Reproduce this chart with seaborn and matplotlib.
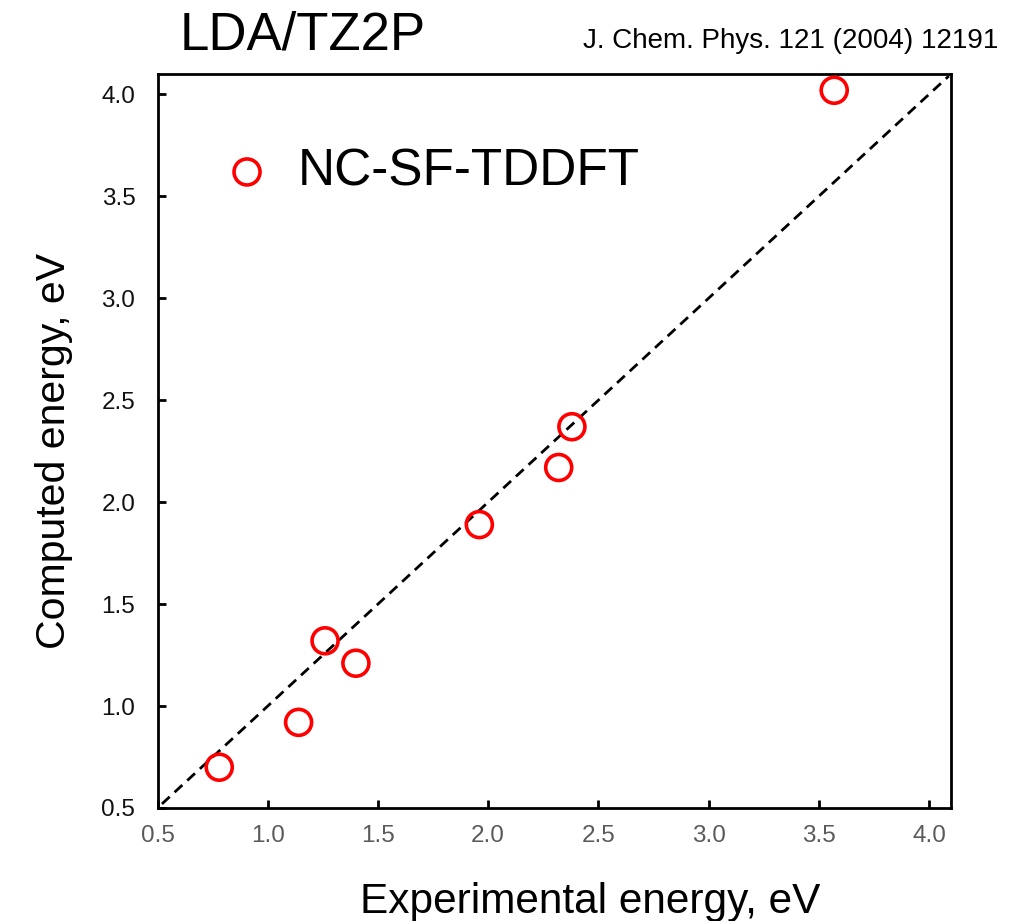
import matplotlib
matplotlib.use("Agg")
import matplotlib.pyplot as plt
from matplotlib import font_manager
import seaborn as sns
import pandas as pd

# Excitation energies (eV): experiment vs. NC-SF-TDDFT
experimental = [0.78, 1.14, 1.26, 1.40, 1.96, 2.32, 2.38, 3.57]
computed = [0.70, 0.92, 1.32, 1.21, 1.89, 2.17, 2.37, 4.02]
series_label = "NC-SF-TDDFT"
tick_values = [0.5, 1.0, 1.5, 2.0, 2.5, 3.0, 3.5, 4.0]
axis_limits = (0.5, 4.1)
diagonal = [0.52, 4.09]

sns.set_style("white")
installed = {f.name for f in font_manager.fontManager.ttflist}
regular = "Liberation Sans"
narrow = "Liberation Sans Narrow" if "Liberation Sans Narrow" in installed else regular
plt.rcParams["font.family"] = [regular, "DejaVu Sans"]
plt.rcParams["text.color"] = "black"

df = pd.DataFrame({"Experimental": experimental, "Computed": computed})

fig = plt.figure(figsize=(10.19, 9.21), dpi=100)
ax = fig.add_axes([0.1546, 0.1227, 0.7787, 0.7970])

ax.plot(diagonal, diagonal, color="black", lw=2.0, ls=(0, (3.8, 2.4)), zorder=1)

sns.scatterplot(data=df, x="Experimental", y="Computed", ax=ax, marker="o",
                s=350, facecolors="none", edgecolors="#ff0000", linewidth=2.6,
                label=series_label, zorder=3)

ax.set_xlim(*axis_limits)
ax.set_ylim(*axis_limits)
ax.set_xticks(tick_values)
ax.set_yticks(tick_values)
ax.set_xticklabels([f"{v:.1f}" for v in tick_values])
ax.set_yticklabels([f"{v:.1f}" for v in tick_values])

for side in ["left", "right", "top", "bottom"]:
    ax.spines[side].set_visible(True)
    ax.spines[side].set_linewidth(2.0)
    ax.spines[side].set_color("black")

ax.tick_params(axis="both", direction="in", length=5.5, width=2.0, color="black",
               bottom=True, left=True, top=False, right=False, labelsize=17.5)
ax.tick_params(axis="x", pad=12, labelcolor="#5a5a5a")
ax.tick_params(axis="y", pad=16, labelcolor="#111111")
for lab in ax.get_xticklabels() + ax.get_yticklabels():
    lab.set_fontfamily(regular)

ax.set_xlabel("Experimental energy, eV", fontsize=30.5, family=narrow,
              color="black", va="baseline")
ax.xaxis.set_label_coords(0.545, -0.143)
ax.set_ylabel("Computed energy, eV", fontsize=29.5, family=narrow,
              color="black", va="baseline")
ax.yaxis.set_label_coords(-0.1166, 0.486)

leg = ax.legend(loc="center left", bbox_to_anchor=(0.0804, 0.8665), frameon=False,
                fontsize=37, handlelength=1.0, handletextpad=0.49,
                borderaxespad=0, borderpad=0)
for t in leg.get_texts():
    t.set_fontfamily(regular)
    t.set_color("black")

fig.text(180 / 1019, 1 - 50 / 921, "LDA/TZ2P", fontsize=38, family=narrow,
         color="black", ha="left", va="baseline")
fig.text(998 / 1019, 1 - 48 / 921, "J. Chem. Phys. 121 (2004) 12191", fontsize=20,
         family=narrow, color="black", ha="right", va="baseline")

fig.savefig("out.png", dpi=100, facecolor="white")
